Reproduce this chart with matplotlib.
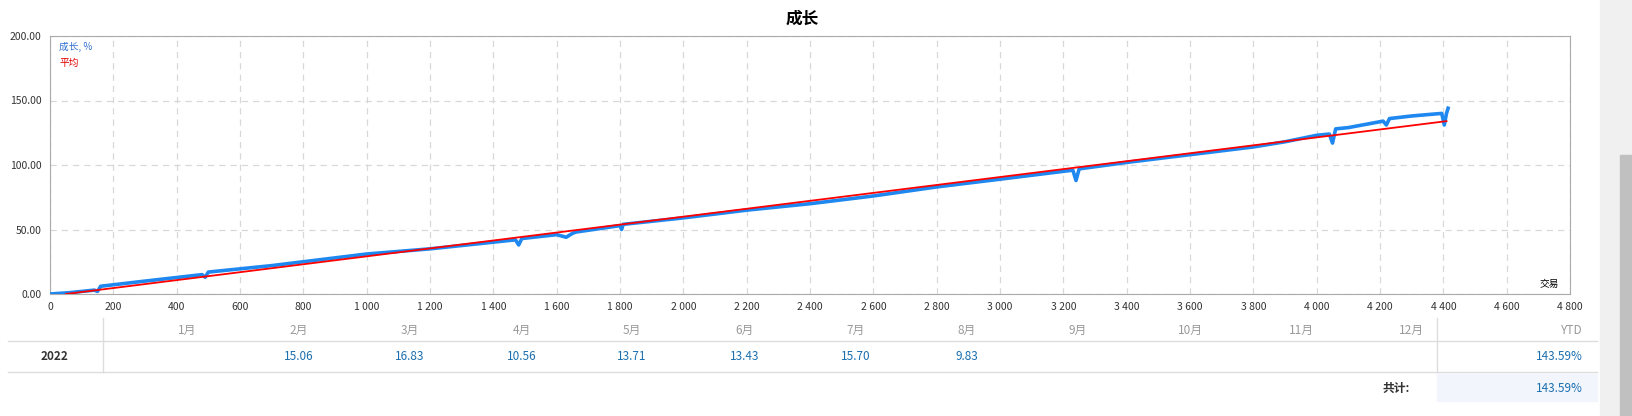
import matplotlib.pyplot as plt
from matplotlib.ticker import FuncFormatter

plt.rcParams['font.family'] = ['Noto Sans CJK SC', 'DejaVu Sans']

W, H = 1633, 416

# growth curve (trade number, %)
trades = [0, 60, 100, 140, 150, 160, 300, 480, 490, 500, 700, 1000, 1200, 1470, 1480, 1490,
          1600, 1630, 1650, 1660, 1800, 1805, 1810, 2000, 2200, 2400, 2600, 2800, 3000,
          3230, 3240, 3250, 3400, 3600, 3800, 3900, 4000, 4040, 4050, 4060, 4100,
          4210, 4220, 4230, 4300, 4395, 4403, 4410, 4415]
growth = [0, 1, 2, 3, 2, 6, 10, 15, 13, 17, 22, 31, 35, 42, 38, 43,
          46, 44, 47, 48, 53, 50, 54, 59, 65, 70, 76, 83, 89,
          96, 88, 97, 102, 108, 114, 118, 123, 124, 117, 128, 129,
          134, 131, 136, 138, 140, 131, 140, 144]
avg_x = [50, 4410]
avg_y = [0, 134]

months = ['1月', '2月', '3月', '4月', '5月', '6月', '7月', '8月', '9月', '10月', '11月', '12月']
month_vals = ['', '15.06', '16.83', '10.56', '13.71', '13.43', '15.70', '9.83', '', '', '', '']
year = '2022'
ytd = '143.59%'
total = '143.59%'

fig = plt.figure(figsize=(W / 100, H / 100), dpi=100)
ax = fig.add_axes([50 / W, 1 - 294 / H, (1570 - 50) / W, (294 - 36) / H])
ax.plot(trades, growth, color='#1e88f0', lw=2.6, zorder=3)
ax.plot(avg_x, avg_y, color='#ff0000', lw=1.3, zorder=4)
ax.set_xlim(0, 4800)
ax.set_ylim(0, 200)
ax.set_xticks(range(0, 4801, 200))
ax.set_yticks(range(0, 201, 50))
ax.xaxis.set_major_formatter(FuncFormatter(lambda v, p: f'{int(v):,}'.replace(',', ' ')))
ax.yaxis.set_major_formatter(FuncFormatter(lambda v, p: f'{v:.2f}'))
ax.tick_params(length=0, labelsize=7.5, colors='#333333', pad=6)
ax.grid(color='#d8d8d8', ls=(0, (5, 4)), lw=0.9)
for s in ax.spines.values():
    s.set_color('#aaaaaa')
ax.text(0.006, 0.975, '成长, %', color='#3070d0', fontsize=7, transform=ax.transAxes, va='top')
ax.text(0.006, 0.915, '平均', color='#e00000', fontsize=7, transform=ax.transAxes, va='top')
ax.text(0.993, 0.02, '交易', fontsize=7, transform=ax.transAxes, ha='right', va='bottom')
fig.text(802 / W, 1 - 19 / H, '成长', fontsize=12, fontweight='bold', ha='center', va='center')

# table below the chart
def fy(y):
    return 1 - y / H

mx = [187, 299, 410, 522, 632, 745, 856, 967, 1078, 1190, 1301, 1411]
for x, m, v in zip(mx, months, month_vals):
    fig.text(x / W, fy(330), m, color='#999999', fontsize=8.5, ha='center', va='center')
    fig.text(x / W, fy(357), v, color='#1a6fb0', fontsize=8.5, ha='center', va='center')
fig.text(55 / W, fy(357), year, fontsize=8.5, fontweight='bold', ha='center', va='center', color='#333333')
fig.text(1583 / W, fy(330), 'YTD', color='#999999', fontsize=8.5, ha='right', va='center')
fig.text(1583 / W, fy(357), ytd, color='#1a6fb0', fontsize=8.5, ha='right', va='center')
fig.text(1410 / W, fy(388), '共计:', fontsize=8.5, fontweight='bold', ha='right', va='center', color='#333333')
fig.patches.append(plt.Rectangle((1437 / W, fy(401)), 160 / W, 27 / H, transform=fig.transFigure,
                                 color='#f2f5fb', zorder=0))
fig.text(1583 / W, fy(388), total, color='#1a6fb0', fontsize=8.5, ha='right', va='center')
for y in (341, 372):
    fig.add_artist(plt.Line2D([8 / W, 1597 / W], [fy(y), fy(y)], color='#dddddd', lw=1))
for x in (103, 1437):
    fig.add_artist(plt.Line2D([x / W, x / W], [fy(318), fy(372)], color='#dddddd', lw=1))
fig.patches.append(plt.Rectangle((1600 / W, 0), 33 / W, 1, transform=fig.transFigure, color='#f0f0f0', zorder=0))
fig.patches.append(plt.Rectangle((1620 / W, 0), 13 / W, 1 - 155 / H, transform=fig.transFigure, color='#c0c0c0', zorder=0))

fig.savefig('out.png', dpi=100)
